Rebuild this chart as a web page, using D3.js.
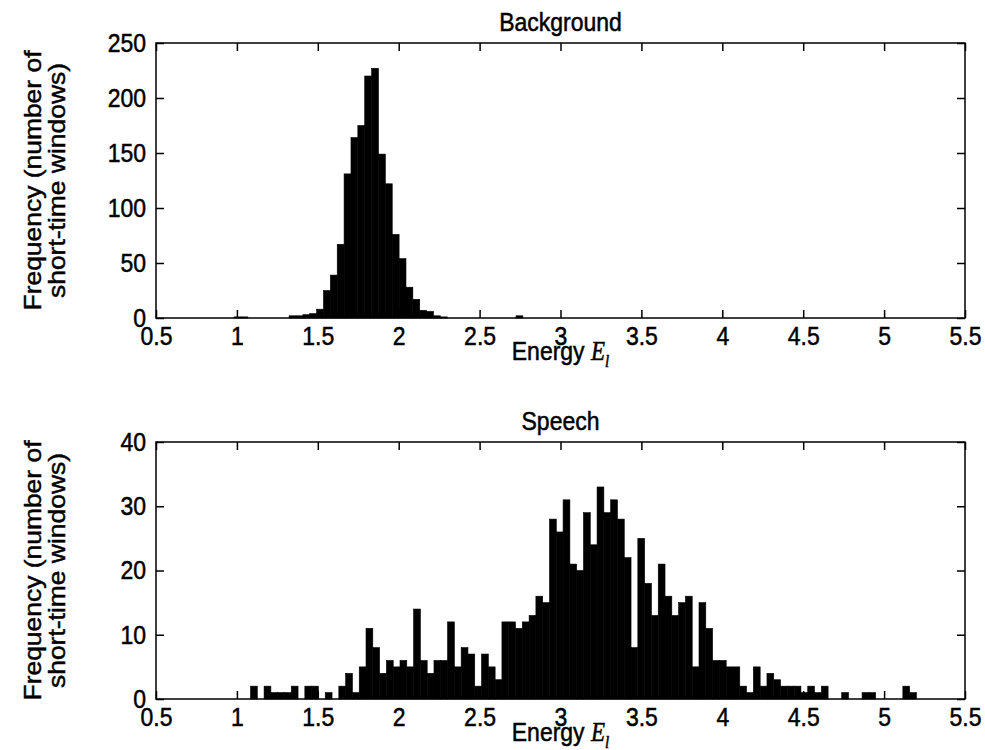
<!DOCTYPE html>
<html>
<head>
<meta charset="utf-8">
<script src="https://cdn.jsdelivr.net/npm/d3@7"></script>
<style>
  body { margin: 0; background: #fff; }
  svg { display: block; font-family: "Liberation Sans", Arial, Helvetica, sans-serif; }
  svg text { stroke: #000; stroke-width: 0.45px; fill: #000; }
</style>
</head>
<body>
<div id="chart"></div>
<script>
// shared x axis
const xDomain = [0.5, 5.5];
const xTicks = [0.5, 1, 1.5, 2, 2.5, 3, 3.5, 4, 4.5, 5, 5.5];
const xLabelText = "Energy ";
const xLabelSymbol = "E";
const xLabelSub = "l";
const yLabelLines = ["Frequency (number of", "short-time windows)"];

// top panel: background
const backgroundTitle = "Background";
const backgroundYTicks = [0, 50, 100, 150, 200, 250];
const backgroundBinStart = 0.9825;
const backgroundBinWidth = 0.0425;
const backgroundCounts = [
  1, 1, 0, 0, 0, 0, 0, 0, 2, 2,
  3, 4, 8, 25, 39, 67, 131, 164, 175, 220,
  227, 149, 122, 76, 54, 28, 17, 7, 6, 2,
  1, 0, 0, 0, 0, 0, 0, 0, 0, 0,
  0, 2
];

// bottom panel: speech
const speechTitle = "Speech";
const speechYTicks = [0, 10, 20, 30, 40];
const speechBinStart = 1.0;
const speechBinWidth = 0.042;
const speechCounts = [
  0, 0, 2, 0, 2, 1, 1, 1, 2, 0,
  2, 2, 0, 1, 0, 2, 4, 1, 5, 11,
  8, 4, 6, 5, 6, 5, 14, 6, 4, 6,
  6, 12, 5, 8, 7, 2, 7, 5, 3, 12,
  12, 11, 12, 13, 16, 15, 28, 26, 31, 21,
  20, 29, 24, 33, 29, 31, 28, 22, 8, 25,
  18, 13, 21, 16, 13, 15, 16, 5, 15, 11,
  6, 6, 5, 5, 2, 1, 5, 2, 4, 3,
  2, 2, 2, 1, 2, 1, 2, 0, 0, 1,
  0, 0, 1, 1, 0, 0, 0, 0, 2, 1
];

const width = 985;
const height = 750;
const plotLeft = 156;
const plotRight = 965;
const fontSize = 23;
const stretch = 1.15; // the scanned figure is a bit taller than wide

const panels = [
  { title: backgroundTitle, yTicks: backgroundYTicks, binStart: backgroundBinStart,
    binWidth: backgroundBinWidth, counts: backgroundCounts, top: 43, bottom: 318 },
  { title: speechTitle, yTicks: speechYTicks, binStart: speechBinStart,
    binWidth: speechBinWidth, counts: speechCounts, top: 442, bottom: 699 }
];

function createSvg() {
  return d3.select("#chart")
    .append("svg")
    .attr("width", width)
    .attr("height", height);
}

function createScales(panel) {
  const xScale = d3.scaleLinear().domain(xDomain).range([plotLeft, plotRight]);
  const yScale = d3.scaleLinear()
    .domain([0, d3.max(panel.yTicks)])
    .range([panel.bottom, panel.top]);
  return { xScale, yScale };
}

function drawHistogram(svg, panel, xScale, yScale) {
  const bins = panel.counts
    .map((c, i) => ({
      x0: panel.binStart + i * panel.binWidth,
      x1: panel.binStart + (i + 1) * panel.binWidth,
      count: c
    }))
    .filter((d) => d.count > 0);

  svg.append("g")
    .selectAll("rect")
    .data(bins)
    .join("rect")
    .attr("x", (d) => xScale(d.x0))
    .attr("width", (d) => xScale(d.x1) - xScale(d.x0))
    .attr("y", (d) => yScale(d.count))
    .attr("height", (d) => yScale(0) - yScale(d.count))
    .attr("fill", "#000")
    .attr("stroke", "#000")
    .attr("stroke-width", 0.6);
}

function styleAxis(g) {
  g.attr("font-size", fontSize).attr("font-family", null);
  g.select(".domain").remove();
  g.selectAll(".tick line").attr("stroke", "#000").attr("stroke-width", 1.5);
  g.selectAll(".tick text")
    .attr("fill", "#000")
    .attr("transform", `scale(1,${stretch})`);
}

function addAxes(svg, panel, xScale, yScale) {
  const xAxis = d3.axisBottom(xScale)
    .tickValues(xTicks)
    .tickFormat(d3.format(""))
    .tickSizeInner(-8)
    .tickSizeOuter(0)
    .tickPadding(7);
  svg.append("g")
    .attr("transform", `translate(0,${panel.bottom})`)
    .call(xAxis)
    .call(styleAxis);

  const xAxisTop = d3.axisTop(xScale).tickValues(xTicks).tickFormat("").tickSizeInner(-8).tickSizeOuter(0);
  svg.append("g")
    .attr("transform", `translate(0,${panel.top})`)
    .call(xAxisTop)
    .call(styleAxis);

  const yAxis = d3.axisLeft(yScale)
    .tickValues(panel.yTicks)
    .tickFormat(d3.format(""))
    .tickSizeInner(-8)
    .tickSizeOuter(0)
    .tickPadding(10);
  svg.append("g")
    .attr("transform", `translate(${plotLeft},0)`)
    .call(yAxis)
    .call(styleAxis);

  const yAxisRight = d3.axisRight(yScale).tickValues(panel.yTicks).tickFormat("").tickSizeInner(-8).tickSizeOuter(0);
  svg.append("g")
    .attr("transform", `translate(${plotRight},0)`)
    .call(yAxisRight)
    .call(styleAxis);

  // box around the axes
  svg.append("rect")
    .attr("x", plotLeft)
    .attr("y", panel.top)
    .attr("width", plotRight - plotLeft)
    .attr("height", panel.bottom - panel.top)
    .attr("fill", "none")
    .attr("stroke", "#000")
    .attr("stroke-width", 1.5);
}

function addLabels(svg, panel) {
  const cx = (plotLeft + plotRight) / 2;
  const cy = (panel.top + panel.bottom) / 2;

  svg.append("text")
    .attr("transform", `translate(${cx},${panel.top - 12}) scale(1,${stretch})`)
    .attr("text-anchor", "middle")
    .attr("font-size", fontSize)
    .text(panel.title);

  const xLabel = svg.append("text")
    .attr("transform", `translate(${cx},${panel.bottom + 42}) scale(1,${stretch})`)
    .attr("text-anchor", "middle")
    .attr("font-size", fontSize);
  xLabel.append("tspan").text(xLabelText);
  xLabel.append("tspan")
    .attr("font-family", "'Liberation Serif', 'Times New Roman', serif")
    .attr("font-style", "italic")
    .text(xLabelSymbol);
  xLabel.append("tspan")
    .attr("font-family", "'Liberation Serif', 'Times New Roman', serif")
    .attr("font-style", "italic")
    .attr("font-size", 15)
    .attr("dy", 6)
    .text(xLabelSub);

  const yLabel = svg.append("g")
    .attr("transform", `translate(0,${cy}) rotate(-90) scale(${stretch},1)`);
  yLabel.selectAll("text")
    .data(yLabelLines)
    .join("text")
    .attr("x", 0)
    .attr("y", (d, i) => 41 + i * 24)
    .attr("text-anchor", "middle")
    .attr("font-size", fontSize)
    .text((d) => d);
}

const svg = createSvg();
panels.forEach((panel) => {
  const { xScale, yScale } = createScales(panel);
  drawHistogram(svg, panel, xScale, yScale);
  addAxes(svg, panel, xScale, yScale);
  addLabels(svg, panel);
});
</script>
</body>
</html>
